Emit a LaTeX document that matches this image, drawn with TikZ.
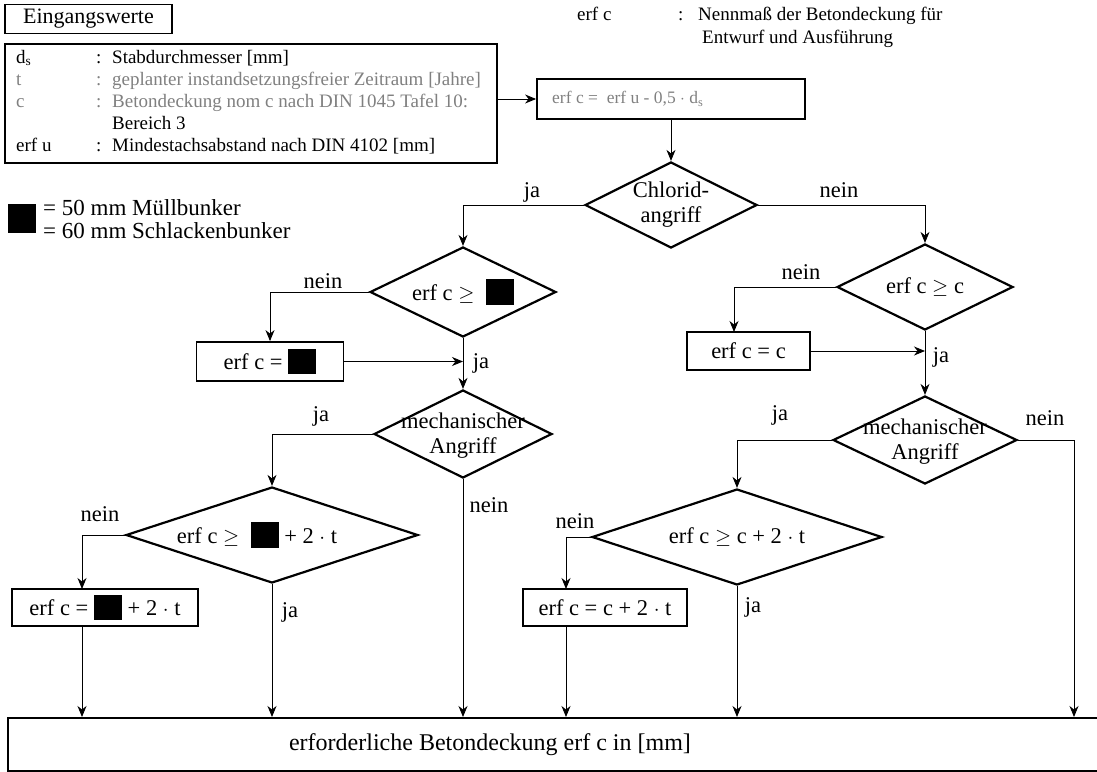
\documentclass[tikz,border=0pt]{standalone}
\usepackage{fontspec}
\setmainfont{Liberation Serif}
\usetikzlibrary{arrows.meta,shapes.geometric}
\newcommand{\sqblk}{\rule[-0.2em]{1.25em}{1.15em}}
\begin{document}
\begin{tikzpicture}[x=1pt,y=-1pt,
  lbl/.style={font=\fontsize{22.5}{25}\selectfont, inner sep=0pt, align=center},
  box/.style={draw, line width=1.8pt, rectangle, inner sep=0pt, font=\fontsize{22.5}{25}\selectfont},
  dia/.style={draw, line width=2.2pt, diamond, inner sep=0pt},
  arr/.style={line width=0.9pt, -{Stealth[length=11pt,width=9pt,inset=3.5pt]}},
  itxt/.style={font=\fontsize{19}{22}\selectfont, inner sep=0pt, anchor=base west},
  faded/.style={text=black!50},
  trt/.style={font=\fontsize{19}{22}\selectfont, inner sep=0pt, anchor=base west},
  leg/.style={font=\fontsize{23}{25}\selectfont, inner sep=0pt, anchor=base west}
]
\useasboundingbox (0,0) rectangle (1097,771);

% top left: input values
\node[box, minimum width=167pt, minimum height=29pt, font=\fontsize{22}{26}\selectfont] (eing) at (88.5,19) {Eingangswerte};
\node[box, minimum width=492pt, minimum height=119pt] (inp) at (251,103.5) {};
\node[itxt] (r1a) at (16,63) {d\textsubscript{s}};
\node[itxt] (r1b) at (96,63) {:};
\node[itxt] (r1c) at (112,63) {Stabdurchmesser [mm]};
\node[itxt, faded] (r2a) at (16,85) {t};
\node[itxt, faded] (r2b) at (96,85) {:};
\node[itxt, faded] (r2c) at (112,85) {geplanter instandsetzungsfreier Zeitraum [Jahre]};
\node[itxt, faded] (r3a) at (16,107) {c};
\node[itxt, faded] (r3b) at (96,107) {:};
\node[itxt, faded] (r3c) at (112,107) {Betondeckung nom c nach DIN 1045 Tafel 10:};
\node[itxt] (r4c) at (112,129) {Bereich 3};
\node[itxt] (r5a) at (16,151) {erf u};
\node[itxt] (r5b) at (96,151) {:};
\node[itxt] (r5c) at (112,151) {Mindestachsabstand nach DIN 4102 [mm]};

% formula box
\node[box, minimum width=268pt, minimum height=40pt] (fb) at (671,99) {};
\node[itxt, faded, anchor=west, font=\fontsize{17.5}{20}\selectfont] (fbt) at (552,99) {erf c =\ \ erf u - 0,5 $\cdot$ d\textsubscript{s}};

% top right explanation
\node[trt] (ec) at (577,20) {erf c};
\node[trt] (ecc) at (678,20) {:};
\node[trt] (ec1) at (698,20) {Nennmaß der Betondeckung für};
\node[trt] (ec2) at (702,43) {Entwurf und Ausführung};

% legend
\node[fill=black, minimum width=28pt, minimum height=29pt, inner sep=0pt] (sq) at (22,218.5) {};
\node[leg] (lg1) at (43,215) {= 50 mm Müllbunker};
\node[leg] (lg2) at (43,238) {= 60 mm Schlackenbunker};

% diamonds
\node[dia, minimum width=172pt, minimum height=86pt] (d1) at (671,205) {};
\node[lbl] (t1) at (671,205) {Chlorid-\\angriff};
\node[dia, minimum width=186pt, minimum height=90pt] (d2) at (463,292) {};
\node[lbl] (t2) at (463,292) {erf c $\geq$\ \ \sqblk};
\node[dia, minimum width=178pt, minimum height=88pt] (m1) at (463,434) {};
\node[lbl] (tm1) at (463,436) {mechanischer\\Angriff};
\node[dia, minimum width=292pt, minimum height=96pt] (d3) at (272,535) {};
\node[lbl] (t3) at (257,535) {erf c $\geq$\ \ \sqblk\ + 2 $\cdot$ t};
\node[dia, minimum width=176pt, minimum height=86pt] (d4) at (925,287) {};
\node[lbl] (t4) at (925,287) {erf c $\geq$ c};
\node[dia, minimum width=184pt, minimum height=88pt] (m2) at (925,440) {};
\node[lbl] (tm2) at (925,442) {mechanischer\\Angriff};
\node[dia, minimum width=290pt, minimum height=96pt] (d5) at (737,537) {};
\node[lbl] (t5) at (737,537) {erf c $\geq$ c + 2 $\cdot$ t};

% boxes
\node[box, minimum width=147pt, minimum height=39pt] (b1) at (270,361.5) {erf c = \sqblk};
\node[box, minimum width=123pt, minimum height=38pt] (b2) at (748.5,351) {erf c = c};
\node[box, minimum width=186pt, minimum height=37pt] (b3) at (105,607.5) {erf c = \sqblk\ + 2 $\cdot$ t};
\node[box, minimum width=164pt, minimum height=37pt] (b4) at (605,607.5) {erf c = c + 2 $\cdot$ t};

% bottom box
\begin{scope}
\clip (0,0) rectangle (1097,771);
\node[box, minimum width=1110pt, minimum height=53pt, anchor=north west] (bot) at (7,717) {};
\end{scope}
\node[font=\fontsize{24}{28}\selectfont, inner sep=0pt] (bott) at (490,745) {erforderliche Betondeckung erf c in [mm]};

% helper coordinates
\coordinate (b3in) at (82,589);
\coordinate (b3out) at (82,626);
\coordinate (b4in) at (566,589);
\coordinate (b4out) at (566,626);
\coordinate (b2in) at (734,332);
\coordinate (rt) at (1074,717);

% connectors
\draw[arr] (inp.east |- fb.west) -- (fb.west);
\draw[arr] (fb.south) -- (d1.north);
\draw[arr] (d1.west) -| (d2.north);
\draw[arr] (d1.east) -| (d4.north);
\draw[arr] (d2.west) -| (b1.north);
\draw[arr] (b1.east) -- (b1.east -| d2.south);
\draw[arr] (d2.south) -- (m1.north);
\draw[arr] (m1.west) -| (d3.north);
\draw[arr] (m1.south) -- (m1.south |- bot.north);
\draw[arr] (d3.west) -| (b3in);
\draw[arr] (b3out) -- (b3out |- bot.north);
\draw[arr] (d3.south) -- (d3.south |- bot.north);
\draw[arr] (d4.west) -| (b2in);
\draw[arr] (b2.east) -- (b2.east -| d4.south);
\draw[arr] (d4.south) -- (m2.north);
\draw[arr] (m2.west) -| (d5.north);
\draw[arr] (m2.east) -| (rt);
\draw[arr] (d5.west) -| (b4in);
\draw[arr] (b4out) -- (b4out |- bot.north);
\draw[arr] (d5.south) -- (d5.south |- bot.north);

% branch labels
\node[lbl] (l1) at (532,192) {ja};
\node[lbl] (l2) at (839,190) {nein};
\node[lbl] (l3) at (323,281) {nein};
\node[lbl] (l4) at (481,363) {ja};
\node[lbl] (l5) at (321,416) {ja};
\node[lbl] (l6) at (489,505) {nein};
\node[lbl] (l7) at (100,514) {nein};
\node[lbl] (l8) at (290,612) {ja};
\node[lbl] (l9) at (801,272) {nein};
\node[lbl] (l10) at (941,357) {ja};
\node[lbl] (l11) at (780,415) {ja};
\node[lbl] (l12) at (1045,418) {nein};
\node[lbl] (l13) at (575,521) {nein};
\node[lbl] (l14) at (753,607) {ja};
\end{tikzpicture}
\end{document}
